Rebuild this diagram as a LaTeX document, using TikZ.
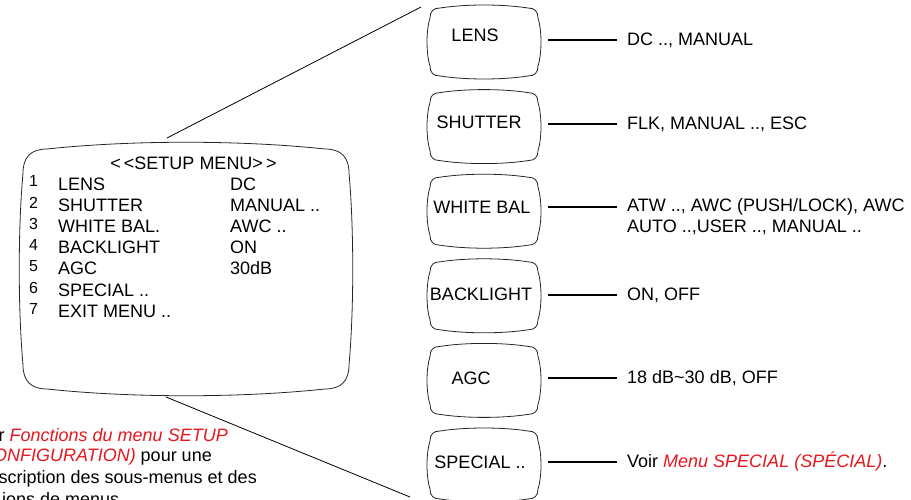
\documentclass[tikz,border=0pt]{standalone}
\usepackage{fontspec}
\setmainfont{Liberation Sans}
\usetikzlibrary{positioning}
\definecolor{linkred}{RGB}{232,22,30}

% outline of a screen: centre, half width, half height, corner, top bulge, side bulge
\newcommand{\tvoutline}[6]{%
  \draw[outline, shift={(#1.center)}] ({-#2+#4},{-#3})
    .. controls ({-#2/3},{-#3-#5}) and ({#2/3},{-#3-#5}) .. ({#2-#4},{-#3})
    .. controls ({#2-#4/3},{-#3}) and ({#2},{-#3+#4/3}) .. ({#2},{-#3+#4})
    .. controls ({#2+#6},{-#3/3}) and ({#2+#6},{#3/3}) .. ({#2},{#3-#4})
    .. controls ({#2},{#3-#4/3}) and ({#2-#4/3},{#3}) .. ({#2-#4},{#3})
    .. controls ({#2/3},{#3+#5}) and ({-#2/3},{#3+#5}) .. ({-#2+#4},{#3})
    .. controls ({-#2+#4/3},{#3}) and ({-#2},{#3-#4/3}) .. ({-#2},{#3-#4})
    .. controls ({-#2-#6},{#3/3}) and ({-#2-#6},{-#3/3}) .. ({-#2},{-#3+#4})
    .. controls ({-#2},{-#3+#4/3}) and ({-#2+#4/3},{-#3}) .. ({-#2+#4},{-#3}) -- cycle;}

\tikzset{
  outline/.style={line width=0.8pt, black!85},
  screen/.style={minimum width=108pt, minimum height=68pt, inner sep=0pt},
  option/.style={anchor=west, inner sep=0pt},
  menutext/.style={anchor=base west, inner sep=0pt},
  menunum/.style={anchor=base west, inner sep=0pt, font=\fontsize{16}{18}\selectfont},
  note/.style={inner sep=0pt},
  link/.style={line width=1.3pt, shorten <=10pt, shorten >=10pt},
  zoomline/.style={line width=0.8pt}
}

\begin{document}
\begin{tikzpicture}[x=1pt, y=-1pt, font=\fontsize{18}{21}\selectfont]
  \path[use as bounding box, clip] (0,0) rectangle (911,500);

  % setup menu screen
  \coordinate (menu) at (186,269);
  \tvoutline{menu}{163}{120}{24}{9}{5}
  \node[anchor=base, inner sep=0pt] (menutitle) at (193.5,170) {<\,<SETUP MENU>\,>};
  \foreach \num/\item in {1/LENS, 2/SHUTTER, 3/WHITE BAL., 4/BACKLIGHT, 5/AGC, 6/SPECIAL .., 7/EXIT MENU ..} {
    \node[menunum] (num\num) at (29,{187+21.2*(\num-1)}) {\num};
    \node[menutext] (item\num) at (58,{190+21.2*(\num-1)}) {\item};
  }
  \foreach \num/\val in {1/DC, 2/MANUAL .., 3/AWC .., 4/ON, 5/30dB}
    \node[menutext] (val\num) at (230,{190+21.2*(\num-1)}) {\val};

  % sub menus
  \foreach \name/\txt/\dx/\dy [count=\i from 0] in {lens/LENS/-9/-7, shutter/SHUTTER/-5/-4, wb/WHITE BAL/-2/-4, backlight/BACKLIGHT/-3/-1, agc/AGC/-13/-2, special/SPECIAL ../-4/-3} {
    \node[screen] (\name) at (484,{42+84.6*\i}) {};
    \tvoutline{\name}{54}{34}{10}{4}{4}
    \node[inner sep=0pt] (\name-label) at ([shift={(\dx,\dy)}]\name.center) {\txt};
  }

  \node[option] (lens-opt) at (627,40) {DC .., MANUAL};
  \node[option] (shutter-opt) at (627,124) {FLK, MANUAL .., ESC};
  \node[option] (wb-opt) at (627,207) {ATW .., AWC (PUSH/LOCK), AWC};
  \node[option] (wb-opt2) at (627,227.5) {AUTO ..,USER .., MANUAL ..};
  \node[option] (backlight-opt) at (627,295) {ON, OFF};
  \node[option] (agc-opt) at (627,378) {18 dB\textasciitilde 30 dB, OFF};
  \node[option] (special-opt) at (627,462) {Voir \textcolor{linkred}{\textit{Menu SPECIAL (SPÉCIAL)}}.};

  \foreach \name in {lens, shutter, wb, backlight, agc, special}
    \draw[link] (\name.east |- \name-opt.west) -- (\name-opt.west);

  % zoom lines
  \coordinate (zoomtopA) at (167,138);
  \coordinate (zoomtopB) at (421,7);
  \coordinate (zoombotA) at (166,397);
  \coordinate (zoombotB) at (410,497);
  \draw[zoomline] (zoomtopA) -- (zoomtopB);
  \draw[zoomline] (zoombotA) -- (zoombotB);

  % note
  \node[note, anchor=base east] (noteA) at (228,441) {r \textcolor{linkred}{\textit{Fonctions du menu SETUP}}};
  \node[note, anchor=base east] (noteB) at (212,461) {\textcolor{linkred}{\textit{ONFIGURATION)}} pour une};
  \node[note, anchor=base east] (noteC) at (257,483) {scription des sous-menus et des};
  \node[note, anchor=base west] (noteD) at (2,505) {ions de menus.};
\end{tikzpicture}
\end{document}
